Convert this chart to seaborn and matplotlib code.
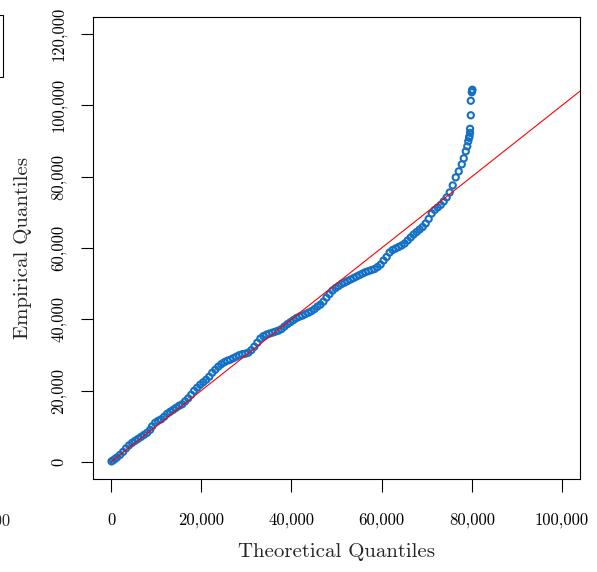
import matplotlib
matplotlib.use('Agg')
import matplotlib.pyplot as plt
import matplotlib.ticker as mticker
import seaborn as sns
import pandas as pd

# theoretical vs empirical quantiles
theoretical = [110, 440, 890, 1330, 2000, 2670, 3330, 4000, 4670, 5330,
               6000, 6670, 7330, 8000, 8670, 9110, 9780, 10440, 11110, 11780,
               12440, 13110, 13780, 14440, 15110, 15780, 16440, 17110, 17780, 18440,
               19110, 19780, 20440, 21110, 21780, 22440, 23110, 23780, 24440, 25110,
               25780, 26440, 27110, 27780, 28440, 29110, 29780, 30440, 31110, 31780,
               32440, 33110, 33780, 34440, 35110, 35780, 36440, 37110, 37780, 38440,
               39110, 39780, 40440, 41110, 41780, 42440, 43110, 43780, 44440, 45110,
               45780, 46440, 47110, 47780, 48440, 49110, 49780, 50440, 51110, 51780,
               52440, 53110, 53780, 54440, 55110, 55780, 56440, 57110, 57780, 58440,
               59110, 59780, 60440, 61110, 61780, 62440, 63110, 63780, 64440, 65110,
               65780, 66440, 67110, 67780, 68440, 69110, 69780, 70440, 71110, 71780,
               72440, 73110, 73780, 74440, 75110, 75780, 76440, 77110, 77780, 78220,
               78670, 79000, 79220, 79400, 79490, 79620, 79620, 79780, 79780, 80000,
               80070, 80130]
empirical = [140, 420, 840, 1260, 1970, 2810, 3790, 4640, 5340, 5900,
             6460, 7030, 7590, 8150, 8990, 9980, 10960, 11520, 11940, 12650,
             13490, 14050, 14610, 15180, 15740, 16160, 17000, 17840, 18830, 19950,
             20800, 21640, 22340, 23040, 23890, 25010, 25850, 26700, 27400, 27960,
             28380, 28660, 29090, 29510, 29930, 30210, 30350, 30630, 31330, 32320,
             33440, 34570, 35270, 35690, 35970, 36250, 36530, 36810, 37240, 37940,
             38640, 39200, 39760, 40330, 40750, 41030, 41450, 41870, 42290, 42860,
             43560, 44120, 44960, 46090, 47070, 48050, 48760, 49320, 49880, 50300,
             50720, 51150, 51570, 51990, 52410, 52830, 53250, 53530, 53820, 54100,
             54660, 55360, 56490, 57470, 58730, 59440, 59860, 60280, 60700, 61260,
             62110, 62950, 63790, 64490, 65200, 65900, 66880, 68150, 69690, 70680,
             71380, 72080, 73070, 74190, 75590, 77560, 79810, 81500, 83460, 85150,
             87120, 88520, 89930, 90910, 91330, 92310, 93440, 97230, 101310, 103700,
             104120, 104400]

ref_line = [0, 110000]
x_ticks = [0, 20000, 40000, 60000, 80000, 100000]
y_ticks = [0, 20000, 40000, 60000, 80000, 100000, 120000]

df = pd.DataFrame({'Theoretical': theoretical, 'Empirical': empirical})
line_df = pd.DataFrame({'x': ref_line, 'y': ref_line})

sns.set_style('ticks')
plt.rcParams['font.family'] = ['cmr10', 'DejaVu Serif']
plt.rcParams['axes.formatter.use_mathtext'] = True

fig = plt.figure(figsize=(5.97, 5.72), dpi=100)
ax = fig.add_axes([93 / 597, 1 - 479 / 572, 487 / 597, 462 / 572])

sns.scatterplot(x='Theoretical', y='Empirical', data=df, ax=ax,
                marker='o', s=20, facecolors='none', edgecolor='#1470C4',
                linewidth=1.5, zorder=2)
sns.lineplot(x='x', y='y', data=line_df, ax=ax, color='red', linewidth=0.8, zorder=3)

ax.set_xlim(-4000, 104000)
ax.set_ylim(-4800, 124800)
ax.set_xticks(x_ticks)
ax.set_yticks(y_ticks)
fmt = mticker.FuncFormatter(lambda v, p: f'{int(v):,}')
ax.xaxis.set_major_formatter(fmt)
ax.yaxis.set_major_formatter(fmt)
ax.tick_params(direction='out', length=9, width=0.8, labelsize=12, color='black',
               labelcolor='black')
ax.tick_params(axis='x', pad=15)
ax.tick_params(axis='y', pad=10)
plt.setp(ax.get_yticklabels(), rotation=90, va='center')
for s in ax.spines.values():
    s.set_color('black')
    s.set_linewidth(0.8)

ax.set_xlabel('Theoretical Quantiles', fontsize=15, labelpad=11)
ax.set_ylabel('Empirical Quantiles', fontsize=15, labelpad=14)

# cut-off neighbour panel on the left edge
fig.patches.append(plt.Rectangle((-50 / 597, 1 - 77 / 572), 53 / 597, 62 / 572,
                                 transform=fig.transFigure, fill=False,
                                 edgecolor='black', linewidth=0.8))
fig.text(11 / 597, 1 - 526 / 572, '100,000', ha='right', va='baseline', fontsize=12)

fig.savefig('out.png', dpi=100)
